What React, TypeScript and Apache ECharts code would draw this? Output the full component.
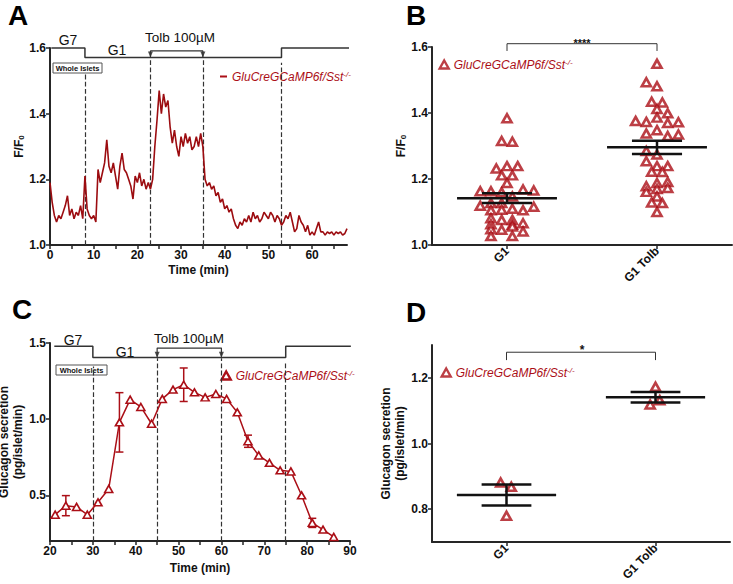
import React, { useEffect, useRef } from 'react';
import * as echarts from 'echarts';

const RED = '#ab0f17';
const AX = '#262626';
const FONT = '"Liberation Sans", Arial, Helvetica, sans-serif';

// ---------- Panel A: F/F0 trace ----------
const traceStepA = 0.5; // minutes between samples, starting at 0
const traceValuesA = [
  1.19, 1.13, 1.09, 1.07, 1.09, 1.08, 1.10, 1.12, 1.15, 1.09,
  1.11, 1.08, 1.10, 1.09, 1.12, 1.08, 1.21, 1.11, 1.09, 1.08,
  1.09, 1.07, 1.23, 1.19, 1.22, 1.25, 1.32, 1.24, 1.22, 1.25,
  1.21, 1.17, 1.24, 1.28, 1.23, 1.22, 1.20, 1.18, 1.14, 1.21,
  1.19, 1.22, 1.18, 1.20, 1.17, 1.19, 1.17, 1.20, 1.30, 1.38,
  1.47, 1.40, 1.46, 1.42, 1.44, 1.36, 1.31, 1.35, 1.30, 1.27,
  1.33, 1.30, 1.34, 1.31, 1.33, 1.29, 1.30, 1.33, 1.30, 1.34,
  1.30, 1.20, 1.18, 1.19, 1.17, 1.18, 1.15, 1.16, 1.13, 1.14,
  1.11, 1.12, 1.10, 1.11, 1.08, 1.06, 1.05, 1.07, 1.06, 1.08,
  1.07, 1.09, 1.07, 1.10, 1.08, 1.09, 1.07, 1.08, 1.10, 1.09,
  1.08, 1.10, 1.09, 1.07, 1.09, 1.08, 1.06, 1.07, 1.09, 1.08,
  1.10, 1.07, 1.04, 1.05, 1.09, 1.07, 1.06, 1.04, 1.06, 1.03,
  1.04, 1.03, 1.05, 1.07, 1.04, 1.04, 1.03, 1.04, 1.035, 1.04,
  1.03, 1.04, 1.035, 1.04, 1.03, 1.035, 1.05,
];
const markerTimesA = [8, 23, 35, 53];
const markerTopsA = [1.52, 1.565, 1.565, 1.555];
const protocolA = [[0.3, 1.6], [8, 1.6], [8, 1.571], [53, 1.571], [53, 1.6], [68.8, 1.6]];
const tolbBracketA = [[23, 1.572], [23, 1.591], [35, 1.591], [35, 1.572]];
const tolbArrowsA = [[23, 1.58], [35, 1.58]];
const xLabelsA = [0, 10, 20, 30, 40, 50, 60];
const xTicksA = [0, 5, 10, 15, 20, 25, 30, 35, 40, 45, 50, 55, 60, 65];

// ---------- Panel B: F/F0 per cell ----------
const groupNames = ['G1', 'G1 Tolb'];
// [jitter column, value]
const bG1 = [
  [0, 1.384], [-0.5, 1.315], [0.5, 1.313], [-1, 1.232], [0, 1.239], [1, 1.239],
  [-0.5, 1.211], [0.5, 1.211], [0, 1.188], [-2.5, 1.163], [-1.5, 1.163], [-0.5, 1.160],
  [1.5, 1.168], [2.5, 1.165], [0.5, 1.147], [-2.5, 1.119], [-1.5, 1.127], [-0.5, 1.127],
  [2.5, 1.116], [-1.5, 1.105], [-0.5, 1.107], [0.5, 1.110], [1.5, 1.105], [-1.5, 1.081],
  [-0.5, 1.076], [0.5, 1.076], [-1.5, 1.063], [0.5, 1.061], [1.5, 1.066], [-1.5, 1.048],
  [-0.5, 1.046], [0.5, 1.056], [1.5, 1.041], [-1.5, 1.027], [0.5, 1.027],
];
const bTolb = [
  [0, 1.549], [-1, 1.493], [0, 1.481], [-0.5, 1.434], [0.5, 1.432], [0, 1.412],
  [1, 1.399], [-2, 1.376], [-1, 1.373], [0, 1.386], [1, 1.370], [2, 1.372],
  [0, 1.348], [-1, 1.338], [1, 1.330], [2, 1.335], [-1, 1.285], [0, 1.274],
  [-1, 1.254], [0, 1.239], [1, 1.239], [-0.5, 1.222], [0.5, 1.221], [-1, 1.178],
  [0, 1.188], [1, 1.191], [-1, 1.161], [0, 1.170], [1, 1.173], [0, 1.147],
  [-0.5, 1.129], [0.5, 1.127], [0, 1.100],
];
const bMeans = [1.142, 1.296];
const bSems = [0.015, 0.02];
const bBracket = [[0.5, 1.588], [0.5, 1.61], [1.5, 1.61], [1.5, 1.588]];

// ---------- Panel C: glucagon secretion time course ----------
const cTimes = [21.2, 23.7, 26.2, 28.7, 31.2, 33.7, 36.2, 38.7, 41.2, 43.7, 46.2, 48.7, 51.2, 53.7,
  56.2, 58.7, 61.2, 63.7, 66.2, 68.7, 71.2, 73.7, 76.2, 78.7, 81.2, 83.7, 86.2];
const cVals = [0.373, 0.432, 0.424, 0.373, 0.454, 0.542, 0.979, 1.128, 1.080, 0.970, 1.133, 1.194,
  1.226, 1.176, 1.143, 1.165, 1.133, 1.045, 0.855, 0.762, 0.713, 0.664, 0.657, 0.500, 0.319, 0.275, 0.227];
const cErr = [0, 0.066, 0, 0, 0, 0, 0.195, 0, 0, 0, 0, 0, 0.11, 0, 0, 0, 0, 0, 0.04, 0, 0, 0, 0, 0, 0.03, 0, 0];
const markerTimesC = [30, 45, 60, 75];
const markerTopsC = [1.345, 1.4, 1.4, 1.38];
const protocolC = [[21, 1.478], [30, 1.478], [30, 1.405], [75, 1.405], [75, 1.478], [90.2, 1.478]];
const tolbBracketC = [[45, 1.41], [45, 1.467], [60, 1.467], [60, 1.41]];
const tolbArrowsC = [[45, 1.423], [60, 1.423]];
const xLabelsC = [20, 30, 40, 50, 60, 70, 80, 90];
const xTicksC = [20, 25, 30, 35, 40, 45, 50, 55, 60, 65, 70, 75, 80, 85, 90];

// ---------- Panel D: glucagon secretion per group ----------
const dG1 = [[-0.55, 0.881], [0.45, 0.868], [0, 0.780]];
const dTolb = [[0, 1.173], [0.4, 1.132], [-0.5, 1.119]];
const dMeans = [0.843, 1.141];
const dSems = [0.032, 0.016];
const dBracket = [[0.5, 1.254], [0.5, 1.278], [1.5, 1.278], [1.5, 1.254]];

const JIT = 0.0713; // category units per jitter column

function lineEl(a: number[], b: number[], stroke: string, w: number) {
  return { type: 'line', shape: { x1: a[0], y1: a[1], x2: b[0], y2: b[1] }, style: { stroke, lineWidth: w } };
}

const meanSemItem = (_p: any, api: any) => {
  const c = api.value(0), m = api.value(1), s = api.value(2);
  const p = (x: number, y: number) => api.coord([x, y]);
  return {
    type: 'group',
    children: [
      lineEl(p(c - 0.333, m), p(c + 0.333, m), '#111', 2.5),
      lineEl(p(c - 0.167, m + s), p(c + 0.167, m + s), '#111', 2.5),
      lineEl(p(c - 0.167, m - s), p(c + 0.167, m - s), '#111', 2.5),
      lineEl(p(c, m - s), p(c, m + s), '#111', 2.5),
    ],
  };
};

const errItem = (_p: any, api: any) => {
  const t = api.value(0), v = api.value(1), e = api.value(2);
  const top = api.coord([t, v + e]);
  const bot = api.coord([t, v - e]);
  return {
    type: 'group',
    children: [
      lineEl(top, bot, RED, 1.5),
      lineEl([top[0] - 4, top[1]], [top[0] + 4, top[1]], RED, 1.5),
      lineEl([bot[0] - 4, bot[1]], [bot[0] + 4, bot[1]], RED, 1.5),
    ],
  };
};

const axisLine = { onZero: false, lineStyle: { color: AX, width: 2 } };
const axisTickBase = { length: 4, lineStyle: { color: AX, width: 1.5 } };
const labelBase = { color: '#111', fontWeight: 'bold', fontSize: 12, fontFamily: FONT, margin: 4 };
const fmt1 = (v: number) => v.toFixed(1);

const richLegend = {
  a: { fontStyle: 'italic', fontSize: 12, color: RED, fontFamily: FONT },
  b: { fontStyle: 'italic', fontSize: 8, color: RED, fontFamily: FONT, verticalAlign: 'top', padding: [0, 0, 5, 0] },
};

function legendFor(name: string, left: number, top: number, tri: boolean) {
  const l: any = {
    data: [name], left, top, padding: 0, selectedMode: false,
    itemWidth: tri ? 9 : 7, itemHeight: tri ? 8 : 2,
    formatter: () => '{a|GluCreGCaMP6f/Sst}{b|-/-}',
    textStyle: { rich: richLegend },
  };
  if (tri) {
    l.icon = 'triangle';
    l.itemStyle = { color: '#fff', borderColor: RED, borderWidth: 2.4 };
  } else {
    l.icon = 'rect';
    l.itemStyle = { color: RED, borderWidth: 0 };
  }
  return l;
}

const markLineFor = (times: number[], tops: number[], bottom: number) => ({
  silent: true,
  symbol: ['none', 'none'],
  label: { show: false },
  lineStyle: { type: 'dashed', color: '#333', width: 1.2 },
  data: times.map((t, i) => [{ coord: [t, bottom] }, { coord: [t, tops[i]] }]),
});

function txt(text: string, x: number, y: number, font: string, fill = '#111') {
  return { type: 'text', x, y, silent: true, style: { text, font, fill, textAlign: 'center', textVerticalAlign: 'middle' } };
}

function islets(x: number, y: number, w: number, h: number) {
  return [
    { type: 'rect', silent: true, shape: { x, y, width: w, height: h }, style: { fill: '#fff', stroke: '#555', lineWidth: 1 } },
    txt('Whole Islets', x + w / 2, y + h / 2 + 0.5, `bold 7.5px ${FONT}`),
  ];
}

function catAxis(gridIndex: number) {
  return {
    type: 'value', gridIndex, min: 0, max: 2,
    axisLine, splitLine: { show: false },
    axisTick: { ...axisTickBase, customValues: [0.5, 1.5] },
    axisLabel: { ...labelBase, rotate: 45, customValues: [0.5, 1.5], formatter: (v: number) => groupNames[Math.round(v - 0.5)] },
  };
}

const jitterData = (pts: number[][], cat: number) => pts.map(([c, v]) => [cat + 0.5 + c * JIT, v]);

const scatterStyle = { color: '#fff', borderColor: RED, borderWidth: 2.6 };

const yNameRich = {
  rich: {
    a: { fontWeight: 'bold', fontSize: 12, color: '#111', fontFamily: FONT },
    b: { fontWeight: 'bold', fontSize: 8, color: '#111', fontFamily: FONT, verticalAlign: 'bottom' },
  },
};

export default function App() {
  const ref = useRef<HTMLDivElement>(null);
  useEffect(() => {
    if (!ref.current) return;
    const chart = echarts.init(ref.current, null, { renderer: 'svg' });
    const option: any = {
      animation: false,
      backgroundColor: '#fff',
      textStyle: { fontFamily: FONT },
      grid: [
        { left: 50, top: 48, width: 297, height: 197, outerBoundsMode: 'none' },
        { left: 432, top: 47, width: 300, height: 198, outerBoundsMode: 'none' },
        { left: 50, top: 343, width: 300, height: 198, outerBoundsMode: 'none' },
        { left: 432, top: 345, width: 298, height: 197, outerBoundsMode: 'none' },
      ],
      xAxis: [
        {
          type: 'value', gridIndex: 0, min: 0, max: 68, axisLine, splitLine: { show: false },
          axisTick: { ...axisTickBase, customValues: xTicksA },
          axisLabel: { ...labelBase, customValues: xLabelsA },
          name: 'Time (min)', nameLocation: 'middle', nameGap: 19,
          nameTextStyle: { fontWeight: 'bold', fontSize: 12, color: '#111', fontFamily: FONT, verticalAlign: 'top' },
        },
        catAxis(1),
        {
          type: 'value', gridIndex: 2, min: 20, max: 90, axisLine, splitLine: { show: false },
          axisTick: { ...axisTickBase, customValues: xTicksC },
          axisLabel: { ...labelBase, customValues: xLabelsC },
          name: 'Time (min)', nameLocation: 'middle', nameGap: 21,
          nameTextStyle: { fontWeight: 'bold', fontSize: 12, color: '#111', fontFamily: FONT, verticalAlign: 'top' },
        },
        catAxis(3),
      ],
      yAxis: [
        {
          type: 'value', gridIndex: 0, min: 1.0, max: 1.6, interval: 0.2, axisLine, splitLine: { show: false },
          axisTick: axisTickBase, axisLabel: { ...labelBase, formatter: fmt1 },
          name: '{a|F/F}{b|0}', nameLocation: 'middle', nameGap: 24, nameTextStyle: yNameRich,
        },
        {
          type: 'value', gridIndex: 1, min: 1.0, max: 1.6, interval: 0.2, axisLine, splitLine: { show: false },
          axisTick: axisTickBase, axisLabel: { ...labelBase, formatter: fmt1 },
          name: '{a|F/F}{b|0}', nameLocation: 'middle', nameGap: 23, nameTextStyle: yNameRich,
        },
        {
          type: 'value', gridIndex: 2, min: 0.2, max: 1.5, axisLine, splitLine: { show: false },
          axisTick: { ...axisTickBase, customValues: [0.5, 1.0, 1.5] },
          axisLabel: { ...labelBase, customValues: [0.5, 1.0, 1.5], formatter: fmt1 },
          name: 'Glucagon secretion\n(pg/islet/min)', nameLocation: 'middle', nameGap: 19,
          nameTextStyle: { fontWeight: 'bold', fontSize: 12, color: '#111', fontFamily: FONT, lineHeight: 14 },
        },
        {
          type: 'value', gridIndex: 3, min: 0.7, max: 1.3, axisLine, splitLine: { show: false },
          axisTick: { ...axisTickBase, customValues: [0.8, 1.0, 1.2] },
          axisLabel: { ...labelBase, customValues: [0.8, 1.0, 1.2], formatter: fmt1 },
          name: 'Glucagon secretion\n(pg/islet/min)', nameLocation: 'middle', nameGap: 19,
          nameTextStyle: { fontWeight: 'bold', fontSize: 12, color: '#111', fontFamily: FONT, lineHeight: 14 },
        },
      ],
      legend: [
        legendFor('A', 220, 70, false),
        legendFor('B', 438.5, 58, true),
        legendFor('C', 220.5, 369, true),
        legendFor('D', 440.5, 366, true),
      ],
      series: [
        // ---- A ----
        {
          type: 'line', name: 'protoA', xAxisIndex: 0, yAxisIndex: 0, data: protocolA, symbol: 'none', clip: false,
          lineStyle: { color: '#333', width: 1.5 }, silent: true, z: 3,
          markLine: markLineFor(markerTimesA, markerTopsA, 1.0),
        },
        { type: 'line', name: 'brA', xAxisIndex: 0, yAxisIndex: 0, data: tolbBracketA, symbol: 'none', clip: false, lineStyle: { color: '#333', width: 1.2 }, silent: true },
        { type: 'scatter', name: 'arA', xAxisIndex: 0, yAxisIndex: 0, data: tolbArrowsA, symbol: 'triangle', symbolRotate: 180, symbolSize: [5, 6], itemStyle: { color: '#222' }, clip: false, silent: true },
        {
          type: 'line', name: 'A', xAxisIndex: 0, yAxisIndex: 0,
          data: traceValuesA.map((v, i) => [i * traceStepA, v]),
          symbol: 'none', lineStyle: { color: '#9c0c10', width: 1.6 }, itemStyle: { color: RED }, z: 5,
        },
        // ---- B ----
        {
          type: 'scatter', name: 'B', xAxisIndex: 1, yAxisIndex: 1,
          data: [...jitterData(bG1, 0), ...jitterData(bTolb, 1)],
          symbol: 'triangle', symbolSize: [9, 8], itemStyle: scatterStyle, z: 4,
        },
        {
          type: 'custom', name: 'msB', xAxisIndex: 1, yAxisIndex: 1, renderItem: meanSemItem, z: 6, silent: true,
          data: bMeans.map((m, i) => [i + 0.5, m, bSems[i]]),
        },
        { type: 'line', name: 'sigB', xAxisIndex: 1, yAxisIndex: 1, data: bBracket, symbol: 'none', clip: false, lineStyle: { color: '#333', width: 1 }, silent: true },
        // ---- C ----
        {
          type: 'line', name: 'protoC', xAxisIndex: 2, yAxisIndex: 2, data: protocolC, symbol: 'none', clip: false,
          lineStyle: { color: '#333', width: 1.5 }, silent: true, z: 3,
          markLine: markLineFor(markerTimesC, markerTopsC, 0.2),
        },
        { type: 'line', name: 'brC', xAxisIndex: 2, yAxisIndex: 2, data: tolbBracketC, symbol: 'none', clip: false, lineStyle: { color: '#333', width: 1.2 }, silent: true },
        { type: 'scatter', name: 'arC', xAxisIndex: 2, yAxisIndex: 2, data: tolbArrowsC, symbol: 'triangle', symbolRotate: 180, symbolSize: [5, 6], itemStyle: { color: '#222' }, clip: false, silent: true },
        {
          type: 'custom', name: 'errC', xAxisIndex: 2, yAxisIndex: 2, renderItem: errItem, z: 4, silent: true,
          data: cTimes.map((t, i) => [t, cVals[i], cErr[i]]).filter((d) => d[2] > 0),
        },
        {
          type: 'line', name: 'C', xAxisIndex: 2, yAxisIndex: 2,
          data: cTimes.map((t, i) => [t, cVals[i]]),
          symbol: 'triangle', symbolSize: [8, 7], showAllSymbol: true,
          lineStyle: { color: RED, width: 1.5 }, itemStyle: { color: '#fff', borderColor: RED, borderWidth: 1.6 }, z: 5,
        },
        // ---- D ----
        {
          type: 'scatter', name: 'D', xAxisIndex: 3, yAxisIndex: 3,
          data: [...jitterData(dG1, 0), ...jitterData(dTolb, 1)],
          symbol: 'triangle', symbolSize: [9, 8], itemStyle: scatterStyle, z: 4,
        },
        {
          type: 'custom', name: 'msD', xAxisIndex: 3, yAxisIndex: 3, renderItem: meanSemItem, z: 6, silent: true,
          data: dMeans.map((m, i) => [i + 0.5, m, dSems[i]]),
        },
        { type: 'line', name: 'sigD', xAxisIndex: 3, yAxisIndex: 3, data: dBracket, symbol: 'none', clip: false, lineStyle: { color: '#333', width: 1 }, silent: true },
      ],
      graphic: [
        txt('A', 18, 15, `bold 28px ${FONT}`, '#000'),
        txt('B', 416, 15, `bold 28px ${FONT}`, '#000'),
        txt('C', 22, 309, `bold 28px ${FONT}`, '#000'),
        txt('D', 416, 312, `bold 28px ${FONT}`, '#000'),
        txt('G7', 68, 40, `14px ${FONT}`),
        txt('G1', 117, 50, `14px ${FONT}`),
        txt('Tolb 100µM', 180, 37, `13.5px ${FONT}`),
        txt('G7', 73, 340, `14px ${FONT}`),
        txt('G1', 125, 352, `14px ${FONT}`),
        txt('Tolb 100µM', 189, 338, `13.5px ${FONT}`),
        ...islets(53, 63, 49, 10),
        ...islets(56, 365, 51, 10),
        txt('****', 582, 43, `bold 11px ${FONT}`),
        txt('*', 582, 350, `bold 12px ${FONT}`),
      ],
    };
    chart.setOption(option);
    return () => chart.dispose();
  }, []);
  return <div ref={ref} style={{ position: 'fixed', left: 0, top: 0, width: 733, height: 584, background: '#fff' }} />;
}
